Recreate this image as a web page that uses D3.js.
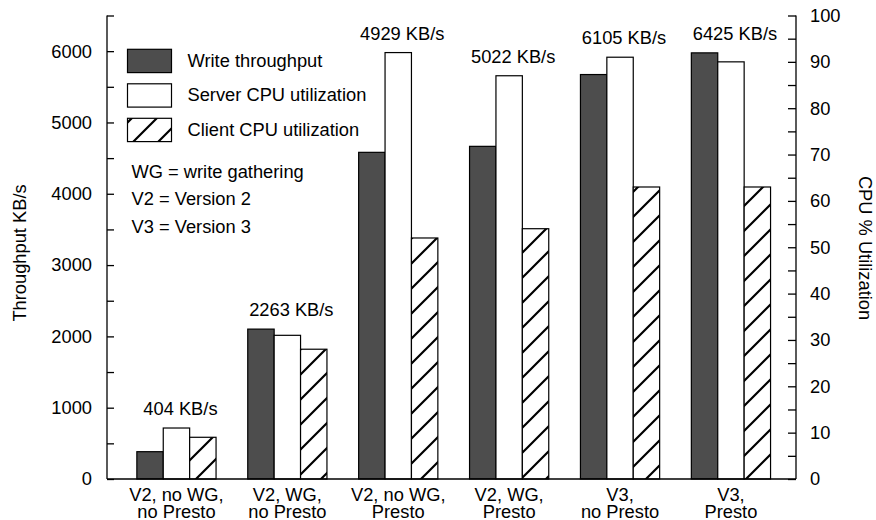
<!DOCTYPE html>
<html>
<head>
<meta charset="utf-8">
<script src="https://cdn.jsdelivr.net/npm/d3@7"></script>
<style>
  html, body { margin: 0; padding: 0; background: #fff; }
  svg { display: block; font-family: "Liberation Sans", Arial, sans-serif; }
</style>
</head>
<body>
<svg id="chart" width="876" height="520"></svg>
<script>
// ---- Data ----
const categories = [
  ["V2, no WG,", "no Presto"],
  ["V2, WG,", "no Presto"],
  ["V2, no WG,", "Presto"],
  ["V2, WG,", "Presto"],
  ["V3,", "no Presto"],
  ["V3,", "Presto"]
];
// Write throughput bar heights as read against the left axis (KB/s)
const writeThroughput = [383, 2102, 4581, 4665, 5672, 5976];
// Annotated throughput labels
const throughputLabels = ["404 KB/s", "2263 KB/s", "4929 KB/s", "5022 KB/s", "6105 KB/s", "6425 KB/s"];
// CPU utilization (%) on right axis
const serverCPU = [11, 31, 92, 87, 91, 90];
const clientCPU = [9, 28, 52, 54, 63, 63];
const leftTicks = [0, 1000, 2000, 3000, 4000, 5000, 6000];
const rightTicks = [0, 10, 20, 30, 40, 50, 60, 70, 80, 90, 100];
const seriesNames = ["Write throughput", "Server CPU utilization", "Client CPU utilization"];
const notes = ["WG = write gathering", "V2 = Version 2", "V3 = Version 3"];

// ---- Layout ----
const svg = d3.select("#chart");
const X0 = 107, X1 = 796, Y0 = 479, Y1 = 15.5;
const FS = 18.3;
const dark = "#4d4d4d";

const x = d3.scaleBand().domain(d3.range(categories.length)).range([121, 786.4]).paddingInner(0).paddingOuter(0);
const yL = d3.scaleLinear().domain([0, 6500]).range([Y0, Y1]);
const yR = d3.scaleLinear().domain([0, 100]).range([Y0, Y1]);
const bw = 26.4;

// hatch pattern
const defs = svg.append("defs");
const pat = defs.append("pattern").attr("id", "hatch").attr("patternUnits", "userSpaceOnUse")
  .attr("width", 25).attr("height", 25);
pat.append("rect").attr("width", 25).attr("height", 25).attr("fill", "#fff");
pat.append("path").attr("d", "M-5,5 L5,-5 M0,25 L25,0 M20,30 L30,20")
  .attr("stroke", "#000").attr("stroke-width", 2.2);

// Bars
const g = svg.append("g");
const cx = i => x(i) + x.bandwidth() / 2;
g.selectAll(".wt").data(writeThroughput).join("rect")
  .attr("x", (d, i) => cx(i) - 1.5 * bw).attr("width", bw)
  .attr("y", d => yL(d)).attr("height", d => Y0 - yL(d))
  .attr("fill", dark).attr("stroke", "#000").attr("stroke-width", 1.2);
g.selectAll(".sc").data(serverCPU).join("rect")
  .attr("x", (d, i) => cx(i) - 0.5 * bw).attr("width", bw)
  .attr("y", d => yR(d)).attr("height", d => Y0 - yR(d))
  .attr("fill", "#fff").attr("stroke", "#000").attr("stroke-width", 1.2);
g.selectAll(".cc").data(clientCPU).join("rect")
  .attr("x", (d, i) => cx(i) + 0.5 * bw).attr("width", bw)
  .attr("y", d => yR(d)).attr("height", d => Y0 - yR(d))
  .attr("fill", "url(#hatch)").attr("stroke", "#000").attr("stroke-width", 1.2);

// Value labels
svg.selectAll(".lbl").data(throughputLabels).join("text")
  .attr("x", (d, i) => cx(i) + 4)
  .attr("y", (d, i) => Math.min(yL(writeThroughput[i]), yR(serverCPU[i]), yR(clientCPU[i])) - 13)
  .attr("text-anchor", "middle").attr("font-size", FS).text(d => d);

// Left axis
const leftAxis = d3.axisRight(yL).tickValues(d3.range(0, 6501, 500)).tickSize(7).tickFormat("");
const la = svg.append("g").attr("transform", `translate(${X0},0)`).call(leftAxis);
la.select(".domain").remove();
la.selectAll("line").attr("stroke", "#000").attr("stroke-width", 1.3);
svg.append("line").attr("x1", X0).attr("x2", X0).attr("y1", Y1).attr("y2", Y0).attr("stroke", "#000").attr("stroke-width", 1.3);
svg.selectAll(".ltl").data(leftTicks).join("text")
  .attr("x", X0 - 15).attr("y", d => yL(d)).attr("dy", "0.35em")
  .attr("text-anchor", "end").attr("font-size", FS).text(d => d);

// Right axis
const rightAxis = d3.axisLeft(yR).tickValues(d3.range(0, 101, 5)).tickSize(8).tickFormat("");
const ra = svg.append("g").attr("transform", `translate(${X1},0)`).call(rightAxis);
ra.select(".domain").remove();
ra.selectAll("line").attr("stroke", "#000").attr("stroke-width", 1.3);
svg.append("line").attr("x1", X1).attr("x2", X1).attr("y1", Y1).attr("y2", Y0).attr("stroke", "#000").attr("stroke-width", 1.3);
svg.selectAll(".rtl").data(rightTicks).join("text")
  .attr("x", X1 + 14).attr("y", d => yR(d)).attr("dy", "0.35em")
  .attr("text-anchor", "start").attr("font-size", FS).text(d => d);

// Bottom axis line
svg.append("line").attr("x1", X0).attr("x2", X1).attr("y1", Y0).attr("y2", Y0).attr("stroke", "#000").attr("stroke-width", 1.3);

// Category labels
const cl = svg.selectAll(".cat").data(categories).join("text")
  .attr("text-anchor", "middle").attr("font-size", FS);
cl.append("tspan").attr("x", (d, i) => cx(i)).attr("y", 500.5).text(d => d[0]);
cl.append("tspan").attr("x", (d, i) => cx(i)).attr("y", 517.5).text(d => d[1]);

// Axis titles
svg.append("text").attr("transform", "translate(26,253) rotate(-90)")
  .attr("text-anchor", "middle").attr("font-size", FS).text("Throughput KB/s");
svg.append("text").attr("transform", "translate(859,248) rotate(90)")
  .attr("text-anchor", "middle").attr("font-size", FS).text("CPU % Utilization");

// Legend
const fills = [dark, "#fff", "url(#hatch)"];
const lg = svg.append("g");
seriesNames.forEach((name, i) => {
  const yy = 49.3 + i * 34.5;
  lg.append("rect").attr("x", 127.5).attr("y", yy).attr("width", 44).attr("height", 23.3)
    .attr("fill", fills[i]).attr("stroke", "#000").attr("stroke-width", 1.2);
  lg.append("text").attr("x", 187.5).attr("y", yy + 17.5).attr("font-size", FS).text(name);
});
notes.forEach((t, i) => {
  lg.append("text").attr("x", 131.5).attr("y", 178 + i * 27.3).attr("font-size", FS).text(t);
});
</script>
</body>
</html>
